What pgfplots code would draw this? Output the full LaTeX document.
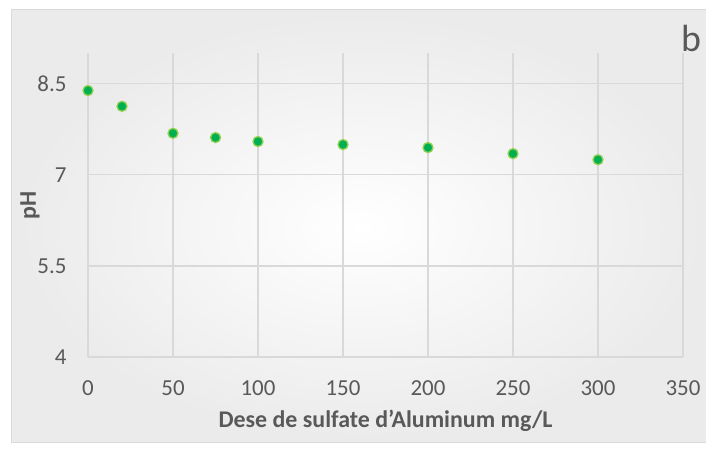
\documentclass[border=0pt]{standalone}
\usepackage{pgfplots}
\pgfplotsset{compat=1.18}
\usepackage{fontspec}
\setmainfont{Carlito}
\definecolor{gridgray}{RGB}{217,217,217}
\definecolor{txtgray}{RGB}{89,89,89}
\definecolor{mkfill}{RGB}{0,176,80}
\definecolor{mkedge}{RGB}{146,208,80}

\begin{document}
\begin{tikzpicture}[x=1bp,y=1bp]
\path[use as bounding box] (0,0) rectangle (706,450);
\begin{scope}
  \clip (0,0) rectangle (706,450);
  \shade[inner color=white, outer color=black!8] (11,7) rectangle (712,440);
  \draw[gridgray, line width=1bp] (11,7) rectangle (712,440);
\end{scope}
\begin{axis}[
  at={(88bp,93bp)}, anchor=south west,
  scale only axis, width=595bp, height=303.5bp,
  xmin=0, xmax=350, ymin=4, ymax=9,
  xtick={0,50,...,350}, ytick={4,5.5,7,8.5},
  yticklabels={4,5.5,7,8.5},
  axis line style={draw=none},
  tick style={draw=none},
  grid=major,
  major grid style={gridgray, line width=1.2bp},
  /pgf/number format/assume math mode=true,
  ticklabel style={font=\fontsize{23}{23}\selectfont, text=txtgray},
  xticklabel style={yshift=-20bp},
  yticklabel style={xshift=-18bp},
  xlabel={Dese de sulfate d’Aluminum mg/L},
  ylabel={pH},
  label style={font=\bfseries\fontsize{24}{24}\selectfont, text=txtgray},
  xlabel style={at={(axis description cs:0.5,0)}, anchor=center, yshift=-64bp},
  ylabel style={at={(axis description cs:-0.0975,0.5)}, anchor=center},
]
\addplot[only marks, mark=*, mark size=5bp,
  mark options={fill=mkfill, draw=mkedge, line width=1.3bp}]
  coordinates {
  (0,8.39) (20,8.13) (50,7.685) (75,7.615) (100,7.55)
  (150,7.50) (200,7.45) (250,7.35) (300,7.25)
};
\end{axis}
\node[text=txtgray, font=\fontsize{38}{38}\selectfont] at (691,412) {b};
\end{tikzpicture}
\end{document}
